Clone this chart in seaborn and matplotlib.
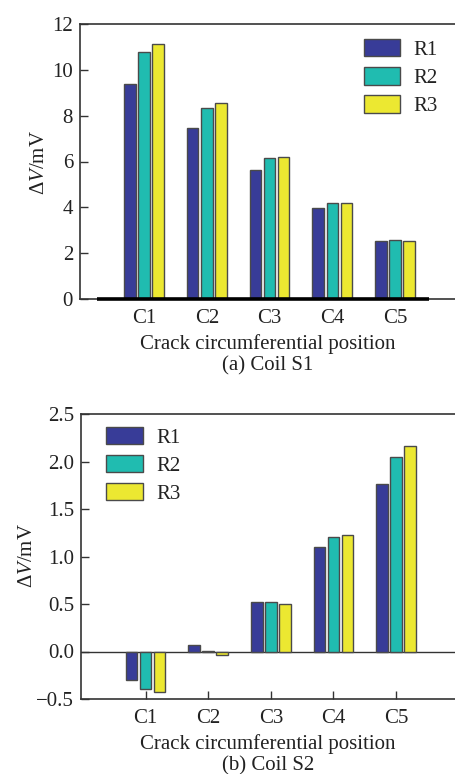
import matplotlib
matplotlib.use("Agg")
import matplotlib.pyplot as plt
import matplotlib.ticker as mticker
from matplotlib.patches import Patch
import seaborn as sns
import pandas as pd

# ---- data ----
categories = ["C1", "C2", "C3", "C4", "C5"]
series_names = ["R1", "R2", "R3"]
s1_R1 = [9.37, 7.48, 5.63, 3.99, 2.52]
s1_R2 = [10.76, 8.35, 6.14, 4.19, 2.56]
s1_R3 = [11.14, 8.54, 6.21, 4.19, 2.52]
s2_R1 = [-0.305, 0.07, 0.526, 1.10, 1.765]
s2_R2 = [-0.393, 0.005, 0.523, 1.21, 2.05]
s2_R3 = [-0.428, -0.035, 0.50, 1.23, 2.16]
colors = ["#383c98", "#20bcb0", "#ece831"]
xlabel = "Crack circumferential position"
ylabel = "Δ$V$/mV"
captions = ["(a) Coil S1", "(b) Coil S2"]


def long_df(r1, r2, r3):
    rows = []
    for name, vals in zip(series_names, [r1, r2, r3]):
        for c, v in zip(categories, vals):
            rows.append({"pos": c, "series": name, "val": v})
    return pd.DataFrame(rows)


sns.set_theme(style="white")
plt.rcParams["font.family"] = ["Liberation Serif", "DejaVu Serif"]
plt.rcParams["mathtext.fontset"] = "custom"
plt.rcParams["mathtext.rm"] = "Liberation Serif"
plt.rcParams["mathtext.it"] = "Liberation Serif:italic"
plt.rcParams["axes.unicode_minus"] = True

FS = 15
W, H = 455, 774
fig = plt.figure(figsize=(W / 100, H / 100), dpi=100)

ax1 = fig.add_axes([80 / W, 1 - 299 / H, (W - 80) / W, 275 / H])
ax2 = fig.add_axes([81 / W, 1 - 699 / H, (W - 81) / W, 285 / H])

edge = "#4a4a4a"
spine_c = "#333333"
text_c = "#222222"

for ax, (r1, r2, r3) in zip([ax1, ax2], [(s1_R1, s1_R2, s1_R3), (s2_R1, s2_R2, s2_R3)]):
    df = long_df(r1, r2, r3)
    sns.barplot(data=df, x="pos", y="val", hue="series", order=categories,
                hue_order=series_names, palette=colors, width=0.67, gap=0.18,
                edgecolor=edge, linewidth=1.0, saturation=1, legend=False, ax=ax)
    for s in ["left", "top", "bottom"]:
        ax.spines[s].set_color(spine_c)
        ax.spines[s].set_linewidth(1.2)
        ax.spines[s].set_visible(True)
    ax.spines["right"].set_visible(False)
    ax.tick_params(axis="both", direction="in", length=5.5, width=1, color=spine_c,
                   labelsize=FS, labelcolor=text_c)
    ax.tick_params(axis="x", pad=7.5, bottom=True)
    ax.tick_params(axis="y", pad=5, left=True)
    ax.set_ylabel(ylabel, fontsize=FS, color=text_c)
    ax.grid(False)

# top panel
ax1.set_xlim(-1.02, 4.956)
ax1.set_ylim(0, 12)
ax1.set_yticks([0, 2, 4, 6, 8, 10, 12])
ax1.hlines(0, -0.75, 4.54, color="black", lw=2.6, zorder=5, clip_on=False)
ax1.set_xlabel(xlabel + "\n" + captions[0], fontsize=FS, color=text_c, linespacing=1.15)
ax1.yaxis.set_label_coords(-0.083, 0.498)

# bottom panel
ax2.set_xlim(-1.03, 4.94)
ax2.set_ylim(-0.5, 2.5)
ax2.set_yticks([-0.5, 0.0, 0.5, 1.0, 1.5, 2.0, 2.5])
ax2.yaxis.set_major_formatter(mticker.FuncFormatter(lambda v, p: f"{v:.1f}".replace("-", "\u2212")))
ax2.axhline(0, color=spine_c, lw=1.0, zorder=0.5)
ax2.set_xlabel(xlabel + "\n" + captions[1], fontsize=FS, color=text_c, linespacing=1.15)
ax2.yaxis.set_label_coords(-0.118, 0.505)

handles = [Patch(facecolor=c, edgecolor=edge, linewidth=1.0) for c in colors]
leg_kw = dict(frameon=False, fontsize=FS, handlelength=1.75, handleheight=0.9,
              handletextpad=0.65, labelspacing=0.35, borderpad=0, borderaxespad=0,
              loc="upper left")
leg1 = ax1.legend(handles, series_names, bbox_to_anchor=(0.757, 0.945), **leg_kw)
leg2 = ax2.legend(handles, series_names, bbox_to_anchor=(0.067, 0.955), **leg_kw)
for leg in (leg1, leg2):
    for t in leg.get_texts():
        t.set_color(text_c)

fig.savefig("out.png", dpi=100)
